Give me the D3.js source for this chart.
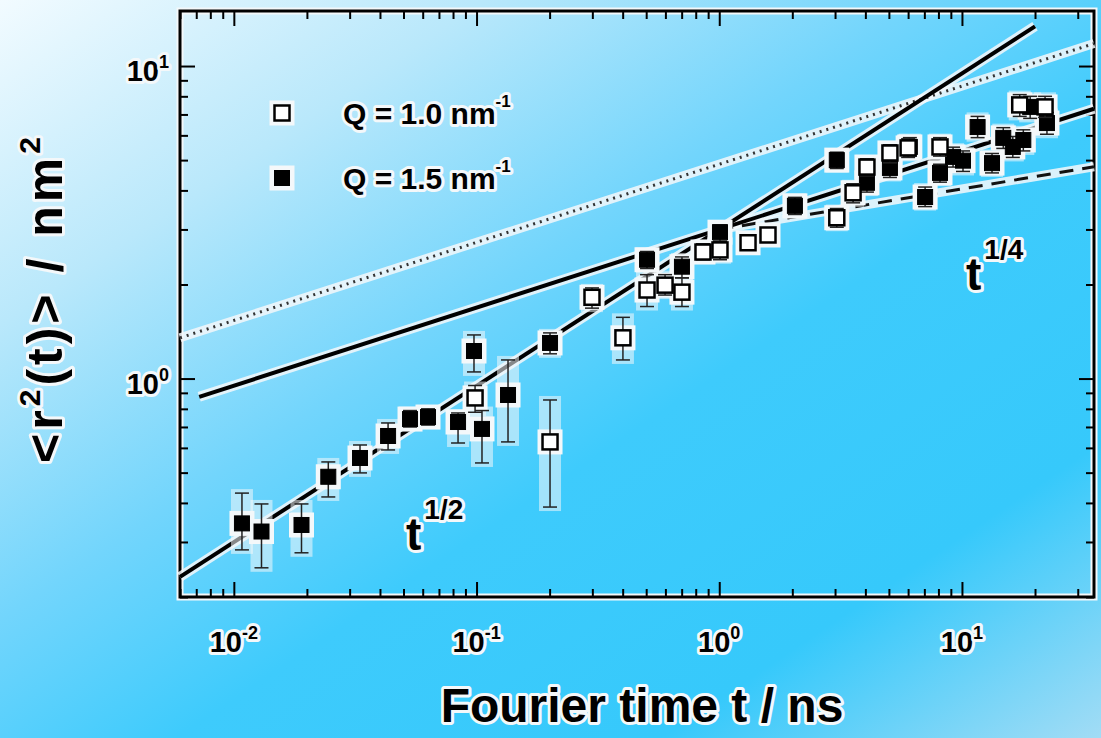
<!DOCTYPE html>
<html>
<head>
<meta charset="utf-8">
<script src="https://cdn.jsdelivr.net/npm/d3@7"></script>
<style>
  body { margin: 0; overflow: hidden; }
  svg { display: block; }
  text { font-family: "Liberation Sans", Arial, sans-serif; font-weight: bold; fill: #000; }
</style>
</head>
<body>
<svg id="chart"></svg>
<script>
// Q = 1.0 nm^-1 (open squares)
const tQ10 = [0.0986, 0.2008, 0.299, 0.401, 0.504, 0.598, 0.702, 0.857, 1.007, 1.314, 1.588, 3.05, 3.56, 4.06, 5.05, 6.0, 8.12, 17.3, 22.0];
const rQ10 = [0.867, 0.627, 1.82, 1.35, 1.92, 1.99, 1.89, 2.54, 2.58, 2.72, 2.88, 3.27, 3.93, 4.75, 5.27, 5.47, 5.51, 7.51, 7.40];
const loQ10 = [0.78, 0.388, 1.68, 1.147, 1.7, 1.85, 1.7, 2.4, 2.4, 2.6, 2.75, 3.05, 3.65, 4.45, 4.9, 5.1, 5.15, 6.9, 6.85];
const hiQ10 = [0.95, 0.854, 1.95, 1.57, 2.15, 2.15, 2.1, 2.7, 2.75, 2.85, 3.0, 3.5, 4.2, 5.05, 5.6, 5.85, 5.9, 8.1, 8.0];

// Q = 1.5 nm^-1 (filled squares)
const tQ15 = [0.0108, 0.013, 0.019, 0.0245, 0.0331, 0.0432, 0.0532, 0.0631, 0.0839, 0.0976, 0.1053, 0.1348, 0.2008, 0.504, 0.702, 1.007, 2.05, 3.05, 4.06, 5.05, 6.1, 7.05, 8.12, 9.19, 10.1, 11.6, 13.3, 14.8, 16.2, 17.9, 19.1, 22.4];
const rQ15 = [0.344, 0.324, 0.34, 0.485, 0.557, 0.655, 0.742, 0.753, 0.726, 1.225, 0.69, 0.886, 1.3, 2.4, 2.28, 2.94, 3.57, 5.0, 4.23, 4.72, 5.51, 3.81, 4.55, 5.12, 4.98, 6.38, 4.89, 5.89, 5.51, 5.8, 7.4, 6.57];
const loQ15 = [0.283, 0.248, 0.277, 0.418, 0.499, 0.591, 0.7, 0.71, 0.622, 1.05, 0.537, 0.627, 1.2, 2.25, 2.1, 2.75, 3.35, 4.7, 3.95, 4.4, 5.15, 3.55, 4.25, 4.75, 4.6, 5.9, 4.55, 5.45, 5.1, 5.35, 6.8, 6.05];
const hiQ15 = [0.43, 0.397, 0.397, 0.541, 0.613, 0.721, 0.79, 0.8, 0.776, 1.379, 0.79, 1.147, 1.4, 2.55, 2.45, 3.1, 3.8, 5.3, 4.5, 5.05, 5.9, 4.1, 4.85, 5.5, 5.35, 6.9, 5.25, 6.35, 5.95, 6.25, 8.0, 7.1];

// power-law guide lines (end points)
const lineHalfT = [0.006, 20];
const lineHalfR = [0.232, 13.4];
const lineQuarterT = [0.0072, 35];
const lineQuarterR = [0.874, 7.3];
const dottedT = [0.006, 35];
const dottedR = [1.35, 11.8];
const dashedT = [1.0, 35];
const dashedR = [3.0, 4.76];

const xMajor = [0.01, 0.1, 1, 10];
const xMajorExp = ["-2", "-1", "0", "1"];
const yMajor = [1, 10];
const yMajorExp = ["0", "1"];

const width = 1101;
const height = 738;
const plotLeft = 180, plotRight = 1094, plotTop = 11, plotBottom = 597;

const svg = d3.select("#chart").attr("width", width).attr("height", height);

const defs = svg.append("defs");
const grad = defs.append("linearGradient").attr("id", "bg")
  .attr("x1", 0).attr("y1", 0).attr("x2", 1).attr("y2", 1);
[["0", "#f2fbff"], ["0.22", "#b9e8fb"], ["0.42", "#72d5fc"], ["0.58", "#3ecbfc"], ["0.8", "#36c9fb"], ["1", "#a2dcf5"]]
  .forEach(([o, c]) => grad.append("stop").attr("offset", o).attr("stop-color", c));

svg.append("rect").attr("width", width).attr("height", height).attr("fill", "url(#bg)");

const x = d3.scaleLog().domain([0.006, 35]).range([plotLeft, plotRight]);
const y = d3.scaleLog().domain([0.2, 15]).range([plotBottom, plotTop]);

const isMajor = (v) => Math.abs(Math.log10(v) - Math.round(Math.log10(v))) < 1e-6;
const xMinor = x.ticks().filter((v) => !isMajor(v));
const yMinor = y.ticks().filter((v) => !isMajor(v));

const halo = "#f4f8fa";

// frame halo
svg.append("rect")
  .attr("x", plotLeft).attr("y", plotTop)
  .attr("width", plotRight - plotLeft).attr("height", plotBottom - plotTop)
  .attr("fill", "none").attr("stroke", halo).attr("stroke-width", 7);

// axes with inward ticks
function drawAxis(axisFn, transform, values, size) {
  const g = svg.append("g").attr("transform", transform)
    .call(axisFn.tickValues(values).tickSize(-size).tickFormat(""));
  g.select(".domain").remove();
  g.selectAll(".tick line").attr("stroke", "#000").attr("stroke-width", 2);
}
drawAxis(d3.axisBottom(x), `translate(0,${plotBottom})`, xMinor, 8);
drawAxis(d3.axisBottom(x), `translate(0,${plotBottom})`, xMajor, 15);
drawAxis(d3.axisTop(x), `translate(0,${plotTop})`, xMinor, 8);
drawAxis(d3.axisTop(x), `translate(0,${plotTop})`, xMajor, 15);
drawAxis(d3.axisLeft(y), `translate(${plotLeft},0)`, yMinor, 8);
drawAxis(d3.axisLeft(y), `translate(${plotLeft},0)`, yMajor, 15);
drawAxis(d3.axisRight(y), `translate(${plotRight},0)`, yMinor, 8);
drawAxis(d3.axisRight(y), `translate(${plotRight},0)`, yMajor, 15);

svg.append("rect")
  .attr("x", plotLeft).attr("y", plotTop)
  .attr("width", plotRight - plotLeft).attr("height", plotBottom - plotTop)
  .attr("fill", "none").attr("stroke", "#000").attr("stroke-width", 3);

// tick labels
function haloText(sel) {
  return sel.attr("stroke", halo).attr("stroke-width", 6).attr("paint-order", "stroke").attr("stroke-linejoin", "round");
}
xMajor.forEach((v, i) => {
  const t = haloText(svg.append("text"))
    .attr("x", x(v)).attr("y", 652)
    .attr("text-anchor", "middle").attr("font-size", 29)
    .text("10");
  t.append("tspan").attr("font-size", 18).attr("dy", -13).text(xMajorExp[i]);
});
yMajor.forEach((v, i) => {
  const t = haloText(svg.append("text"))
    .attr("x", 169).attr("y", y(v) + 15)
    .attr("text-anchor", "end").attr("font-size", 29)
    .text("10");
  t.append("tspan").attr("font-size", 18).attr("dy", -13).text(yMajorExp[i]);
});

// axis titles
haloText(svg.append("text"))
  .attr("x", 642).attr("y", 722)
  .attr("text-anchor", "middle").attr("font-size", 48)
  .text("Fourier time t / ns");

const yTitle = haloText(svg.append("text"))
  .attr("transform", "translate(62,298) rotate(-90)")
  .attr("text-anchor", "middle").attr("font-size", 50).attr("letter-spacing", 4);
yTitle.append("tspan").text("<r");
yTitle.append("tspan").attr("font-size", 30).attr("dy", -22).text("2");
yTitle.append("tspan").attr("dy", 22).text("(t)> / nm");
yTitle.append("tspan").attr("font-size", 30).attr("dy", -22).text("2");

// guide lines
const lineGen = d3.line().x((d) => x(d[0])).y((d) => y(d[1]));
const guides = [
  { t: dottedT, r: dottedR, dash: "2,5", w: 3, color: "#333" },
  { t: dashedT, r: dashedR, dash: "14,9", w: 3, color: "#111" },
  { t: lineQuarterT, r: lineQuarterR, dash: null, w: 4, color: "#000" },
  { t: lineHalfT, r: lineHalfR, dash: null, w: 4, color: "#000" }
];
guides.forEach((g) => {
  const pts = d3.zip(g.t, g.r);
  svg.append("path").attr("d", lineGen(pts)).attr("fill", "none")
    .attr("stroke", halo).attr("stroke-width", g.w + 6).attr("stroke-opacity", 0.85);
});
guides.forEach((g) => {
  const pts = d3.zip(g.t, g.r);
  svg.append("path").attr("d", lineGen(pts)).attr("fill", "none")
    .attr("stroke", g.color).attr("stroke-width", g.w)
    .attr("stroke-dasharray", g.dash);
});

// data points with error bars
const seriesOpen = tQ10.map((t, i) => ({ t, r: rQ10[i], lo: loQ10[i], hi: hiQ10[i] }));
const seriesFilled = tQ15.map((t, i) => ({ t, r: rQ15[i], lo: loQ15[i], hi: hiQ15[i] }));
const box = 15;
const cap = 7;

function drawHalo(data) {
  const g = svg.append("g");
  data.forEach((d) => {
    g.append("rect")
      .attr("x", x(d.t) - cap - 4).attr("y", y(d.hi) - 4)
      .attr("width", 2 * cap + 8).attr("height", y(d.lo) - y(d.hi) + 8)
      .attr("fill", halo).attr("opacity", 0.55);
    g.append("rect")
      .attr("x", x(d.t) - box / 2 - 5).attr("y", y(d.r) - box / 2 - 5)
      .attr("width", box + 10).attr("height", box + 10)
      .attr("fill", halo);
  });
}
function drawSeries(data, filled) {
  const g = svg.append("g");
  g.selectAll(".bar").data(data).enter().append("line")
    .attr("x1", (d) => x(d.t)).attr("x2", (d) => x(d.t))
    .attr("y1", (d) => y(d.lo)).attr("y2", (d) => y(d.hi))
    .attr("stroke", "#222").attr("stroke-width", 1.5);
  ["lo", "hi"].forEach((k) => {
    g.selectAll(".cap-" + k).data(data).enter().append("line")
      .attr("x1", (d) => x(d.t) - cap).attr("x2", (d) => x(d.t) + cap)
      .attr("y1", (d) => y(d[k])).attr("y2", (d) => y(d[k]))
      .attr("stroke", "#222").attr("stroke-width", 1.5);
  });
  g.selectAll(".pt").data(data).enter().append("rect")
    .attr("x", (d) => x(d.t) - box / 2).attr("y", (d) => y(d.r) - box / 2)
    .attr("width", box).attr("height", box)
    .attr("fill", filled ? "#000" : "#fff")
    .attr("stroke", "#000").attr("stroke-width", filled ? 1 : 2.5);
}
drawHalo(seriesOpen);
drawHalo(seriesFilled);
drawSeries(seriesFilled, true);
drawSeries(seriesOpen, false);

// legend
const legend = [
  { label: "Q = 1.0 nm", filled: false, cy: 113 },
  { label: "Q = 1.5 nm", filled: true, cy: 178 }
];
legend.forEach((l) => {
  svg.append("rect")
    .attr("x", 282 - box / 2 - 5).attr("y", l.cy - box / 2 - 5)
    .attr("width", box + 10).attr("height", box + 10).attr("fill", halo);
  svg.append("rect")
    .attr("x", 282 - box / 2).attr("y", l.cy - box / 2)
    .attr("width", box).attr("height", box)
    .attr("fill", l.filled ? "#000" : "#fff")
    .attr("stroke", "#000").attr("stroke-width", l.filled ? 1 : 2.5);
  const t = haloText(svg.append("text"))
    .attr("x", 343).attr("y", l.cy + 11).attr("font-size", 30)
    .text(l.label);
  t.append("tspan").attr("font-size", 17).attr("dy", -17).text("-1");
});

// exponent annotations
function annotate(ax, ay, exp) {
  const t = haloText(svg.append("text"))
    .attr("x", ax).attr("y", ay).attr("font-size", 46).text("t");
  t.append("tspan").attr("font-size", 28).attr("dy", -31).attr("dx", 3).text(exp);
}
annotate(406, 550, "1/2");
annotate(966, 290, "1/4");
</script>
</body>
</html>
